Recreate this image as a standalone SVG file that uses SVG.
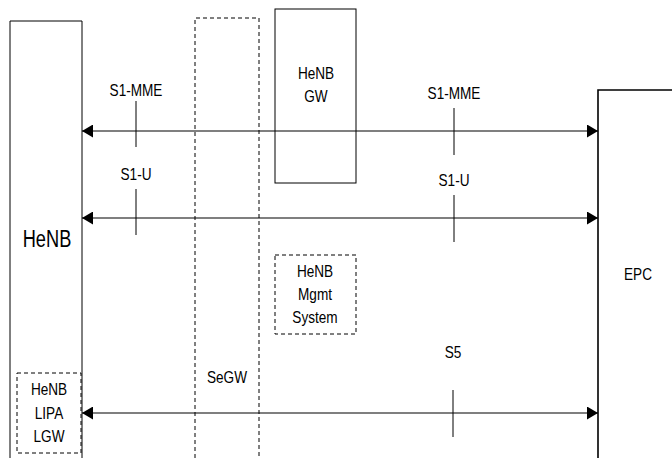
<svg xmlns="http://www.w3.org/2000/svg" width="672" height="458" viewBox="0 0 672 458">
<defs>
<marker id="ah" viewBox="0 0 10 10" refX="10" refY="5" markerWidth="11" markerHeight="13" markerUnits="userSpaceOnUse" orient="auto-start-reverse" preserveAspectRatio="none">
<path d="M0,0 L10,5 L0,10 Z" fill="#000"/>
</marker>
<style>
text{font-family:"Liberation Sans",Arial,sans-serif;font-size:16px;fill:#000;text-anchor:middle}
.big{font-size:24px}
.box{fill:none;stroke:#000;stroke-width:1}
.dash{fill:#fff;stroke:#000;stroke-width:1;stroke-dasharray:4,3}
.conn{stroke:#000;stroke-width:1.2;fill:none}
.tick{stroke:#000;stroke-width:1}
</style>
</defs>
<rect width="672" height="458" fill="#fff"/>
<g id="henb">
<path d="M10,458 V21 H82 V458" class="box"/>
<text class="big" transform="translate(47,247) scale(0.76,1)">HeNB</text>
</g>
<g id="segw">
<path d="M195,458 V18 H259 V458" class="dash" style="fill:none"/>
<text transform="translate(227,383) scale(0.85,1)">SeGW</text>
</g>
<g id="henbgw">
<rect x="275" y="9" width="81" height="174" class="box"/>
<text transform="translate(316,79) scale(0.85,1)">HeNB</text>
<text transform="translate(316,102) scale(0.85,1)">GW</text>
</g>
<g id="epc">
<path d="M672,90 H598 V458" fill="none" stroke="#000" stroke-width="1.6"/>
<text transform="translate(638,280) scale(0.85,1)">EPC</text>
</g>
<g id="mgmt">
<rect x="275" y="255" width="81" height="79" class="dash"/>
<text transform="translate(315,277) scale(0.85,1)">HeNB</text>
<text transform="translate(315,300) scale(0.85,1)">Mgmt</text>
<text transform="translate(315,323) scale(0.85,1)">System</text>
</g>
<g id="lgw">
<rect x="17" y="373" width="64" height="80" class="dash"/>
<text transform="translate(49,395) scale(0.85,1)">HeNB</text>
<text transform="translate(49,419) scale(0.85,1)">LIPA</text>
<text transform="translate(49,442) scale(0.85,1)">LGW</text>
</g>
<g id="connectors">
<line x1="82" y1="131" x2="598" y2="131" class="conn" marker-start="url(#ah)" marker-end="url(#ah)"/>
<line x1="82" y1="218" x2="598" y2="218" class="conn" marker-start="url(#ah)" marker-end="url(#ah)"/>
<line x1="82" y1="413" x2="598" y2="413" class="conn" marker-start="url(#ah)" marker-end="url(#ah)"/>
<line x1="136" y1="101" x2="136" y2="147" class="tick"/>
<line x1="454" y1="108" x2="454" y2="155" class="tick"/>
<line x1="136" y1="189" x2="136" y2="235" class="tick"/>
<line x1="454" y1="195" x2="454" y2="242" class="tick"/>
<line x1="453" y1="390" x2="453" y2="437" class="tick"/>
<text transform="translate(136,96) scale(0.85,1)">S1-MME</text>
<text transform="translate(454,99) scale(0.85,1)">S1-MME</text>
<text transform="translate(136,180) scale(0.85,1)">S1-U</text>
<text transform="translate(454,186) scale(0.85,1)">S1-U</text>
<text transform="translate(453,358) scale(0.85,1)">S5</text>
</g>
</svg>
